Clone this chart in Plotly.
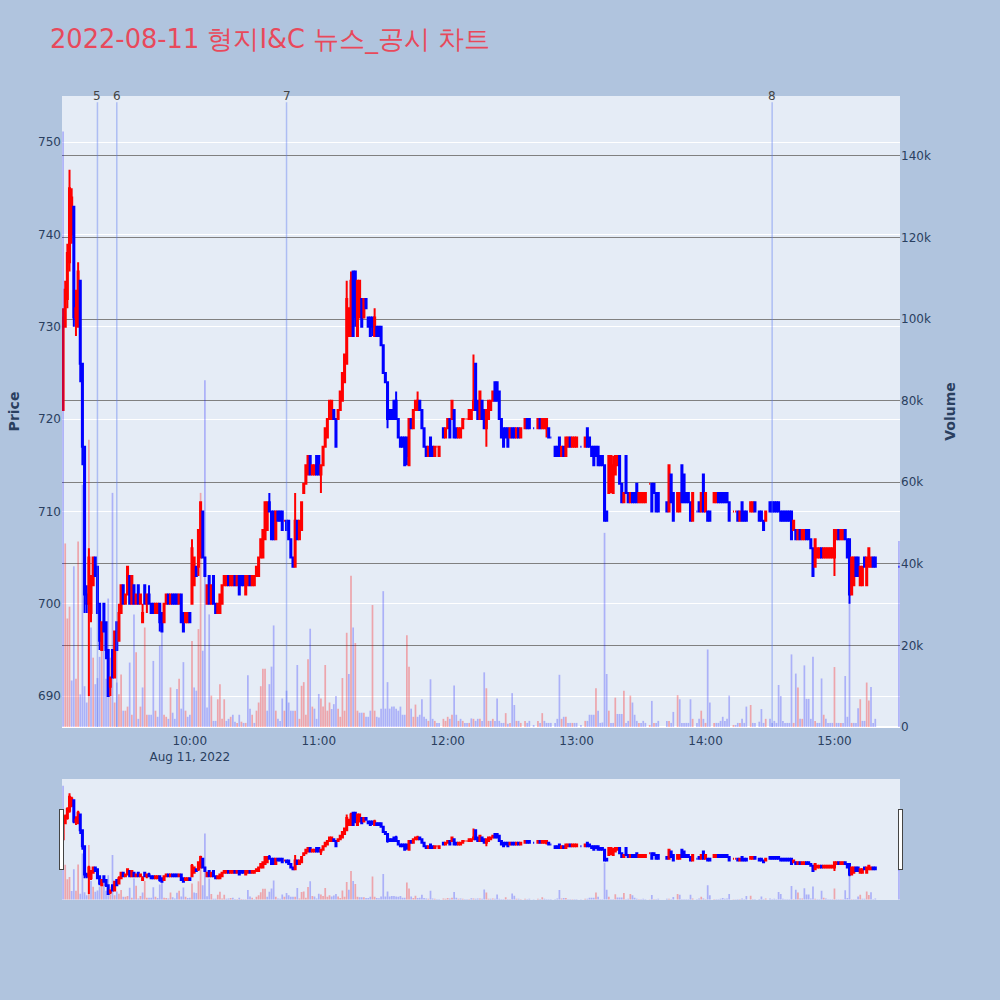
import pandas as pd
import plotly.graph_objects as go
from plotly.subplots import make_subplots

trade_date = "2022-08-11"
title_text = "2022-08-11 형지I&C 뉴스_공시 차트"

times = [
    "09:01","09:02","09:03","09:04","09:05","09:06","09:07","09:08","09:09","09:10",
    "09:11","09:12","09:13","09:14","09:15","09:16","09:17","09:18","09:19","09:20",
    "09:21","09:22","09:23","09:24","09:25","09:26","09:27","09:28","09:29","09:30",
    "09:31","09:32","09:33","09:34","09:35","09:36","09:37","09:38","09:39","09:40",
    "09:41","09:42","09:43","09:44","09:45","09:46","09:47","09:48","09:49","09:50",
    "09:51","09:52","09:53","09:54","09:55","09:56","09:57","09:58","09:59","10:00",
    "10:01","10:02","10:03","10:04","10:05","10:06","10:07","10:08","10:09","10:10",
    "10:11","10:12","10:13","10:14","10:15","10:16","10:17","10:18","10:19","10:20",
    "10:21","10:22","10:23","10:24","10:25","10:26","10:27","10:28","10:29","10:30",
    "10:31","10:32","10:33","10:34","10:35","10:36","10:37","10:38","10:39","10:40",
    "10:41","10:42","10:43","10:44","10:45","10:46","10:47","10:48","10:49","10:50",
    "10:51","10:52","10:53","10:54","10:55","10:56","10:57","10:58","10:59","11:00",
    "11:01","11:02","11:03","11:04","11:05","11:06","11:07","11:08","11:09","11:10",
    "11:11","11:12","11:13","11:14","11:15","11:16","11:17","11:18","11:19","11:20",
    "11:21","11:22","11:23","11:24","11:25","11:26","11:27","11:28","11:29","11:30",
    "11:31","11:32","11:33","11:34","11:35","11:36","11:37","11:38","11:39","11:40",
    "11:41","11:42","11:43","11:44","11:45","11:46","11:47","11:48","11:49","11:50",
    "11:51","11:52","11:53","11:54","11:55","11:56","11:58","11:59","12:00","12:01",
    "12:02","12:03","12:04","12:05","12:06","12:07","12:08","12:09","12:10","12:11",
    "12:12","12:13","12:14","12:15","12:16","12:17","12:18","12:19","12:20","12:21",
    "12:22","12:23","12:24","12:25","12:26","12:27","12:28","12:29","12:30","12:31",
    "12:32","12:33","12:34","12:36","12:37","12:38","12:40","12:42","12:43","12:44",
    "12:45","12:46","12:47","12:48","12:50","12:51","12:52","12:53","12:54","12:55",
    "12:56","12:57","12:58","12:59","13:00","13:02","13:04","13:05","13:06","13:07",
    "13:08","13:09","13:10","13:11","13:12","13:13","13:14","13:15","13:16","13:17",
    "13:18","13:19","13:20","13:21","13:22","13:23","13:24","13:25","13:26","13:27",
    "13:28","13:29","13:30","13:31","13:32","13:34","13:35","13:36","13:37","13:38",
    "13:42","13:43","13:44","13:45","13:47","13:48","13:49","13:50","13:51","13:52",
    "13:53","13:54","13:56","13:57","13:58","13:59","14:00","14:01","14:02","14:04",
    "14:05","14:06","14:07","14:08","14:09","14:10","14:11","14:13","14:14","14:15",
    "14:16","14:17","14:18","14:19","14:21","14:22","14:23","14:25","14:26","14:27",
    "14:28","14:30","14:31","14:32","14:33","14:34","14:35","14:36","14:37","14:38",
    "14:39","14:40","14:41","14:42","14:43","14:44","14:45","14:46","14:47","14:48",
    "14:49","14:50","14:51","14:52","14:53","14:54","14:55","14:56","14:57","14:58",
    "14:59","15:00","15:01","15:02","15:03","15:04","15:05","15:06","15:07","15:08",
    "15:09","15:10","15:11","15:12","15:13","15:14","15:15","15:16","15:17","15:18",
    "15:19","15:30",
]

opens = [
    721,730,733,737,740,743,731,730,735,726,
    717,701,700,699,702,705,704,700,695,700,
    698,695,691,695,692,698,696,699,702,700,
    701,703,700,702,700,702,700,698,702,700,
    701,700,700,699,699,700,699,698,700,701,
    700,701,701,701,700,701,699,698,698,699,
    700,702,704,704,705,710,705,700,703,700,
    703,700,699,699,700,702,702,703,702,702,
    703,702,703,703,703,701,702,703,702,702,
    703,703,705,705,707,708,711,710,710,707,
    710,710,710,709,709,709,707,705,704,709,
    707,708,712,713,714,716,714,714,716,716,
    714,715,717,718,720,720,721,720,720,721,
    722,724,726,729,729,736,736,729,731,733,
    731,733,731,731,731,729,730,730,730,728,
    725,724,721,721,722,722,720,718,718,718,
    718,715,720,719,721,721,722,721,719,717,
    716,718,717,716,717,716,719,718,719,720,
    720,721,719,718,718,719,720,720,720,720,
    721,726,722,720,722,721,719,720,721,722,
    724,724,723,720,719,719,719,718,719,719,
    718,719,718,719,720,720,719,719,720,719,
    719,719,719,718,717,717,718,716,717,716,
    717,718,717,717,717,717,717,719,718,717,
    717,717,717,716,716,715,710,712,713,712,
    714,715,716,713,711,716,712,711,712,712,
    713,711,711,711,711,713,713,713,712,712,
    711,710,714,712,710,710,715,714,712,712,
    711,709,710,711,710,714,710,710,710,711,
    711,712,712,712,712,712,711,710,710,710,
    709,711,710,710,710,710,711,710,710,709,
    709,711,711,711,711,711,710,710,710,710,
    710,710,708,708,707,708,707,707,708,708,
    707,706,704,705,705,706,705,705,705,705,
    705,705,707,708,707,707,708,707,707,701,
    702,705,705,702,702,705,702,704,704,705,
    705,704,
]

highs = [
    732,735,739,747,745,743,734,737,735,726,
    717,702,706,703,705,705,704,700,698,700,
    698,695,692,695,697,698,700,702,702,701,
    704,703,703,702,701,702,701,700,702,701,
    702,700,700,700,700,700,699,700,701,701,
    701,701,701,701,701,701,699,699,699,699,
    707,705,704,708,711,710,705,702,703,702,
    703,700,700,701,702,703,703,703,703,703,
    703,703,703,703,703,703,703,703,703,703,
    704,705,707,708,711,711,712,710,710,710,
    710,710,710,709,709,709,707,705,712,709,
    709,711,713,715,716,716,715,715,716,716,
    715,717,719,720,722,722,721,720,721,723,
    725,727,735,732,736,736,736,735,735,733,
    733,733,731,731,731,732,730,730,730,728,
    725,724,721,721,722,723,720,718,718,718,
    718,720,720,721,722,723,722,721,719,717,
    717,718,717,717,717,717,719,719,720,720,
    722,721,719,719,719,720,720,720,721,721,
    727,726,722,723,722,721,721,722,722,723,
    724,724,723,720,719,719,719,719,719,719,
    719,719,719,720,720,720,719,720,720,720,
    720,720,719,718,717,717,718,717,717,718,
    718,718,718,718,718,717,718,719,718,717,
    717,717,717,716,716,715,710,716,716,716,
    716,716,716,713,712,716,712,712,712,712,
    713,712,712,712,712,713,713,713,712,712,
    711,715,714,712,712,712,715,714,712,712,
    711,712,710,711,712,714,712,710,710,712,
    712,712,712,712,712,712,711,710,710,710,
    710,711,710,710,711,711,711,710,710,709,
    710,711,711,711,711,711,710,710,710,710,
    710,710,709,708,708,708,708,708,708,708,
    707,706,707,706,706,706,706,706,706,706,
    706,708,708,708,708,708,708,707,707,705,
    705,705,705,704,704,705,705,706,705,705,
    705,704,
]

lows = [
    721,730,732,736,739,730,729,730,724,715,
    699,699,690,698,702,703,699,695,695,697,
    694,690,690,692,692,695,696,699,700,700,
    701,700,700,700,700,700,700,698,700,699,
    700,699,699,699,699,697,697,698,700,700,
    700,700,700,700,700,698,697,698,698,698,
    700,702,703,703,705,705,703,700,700,700,
    700,699,699,699,700,702,702,702,702,702,
    702,702,701,702,702,701,702,702,702,702,
    703,703,705,705,707,708,710,707,707,707,
    709,709,708,709,708,707,705,704,704,707,
    707,708,712,713,714,714,714,714,714,714,
    712,715,717,718,720,720,720,717,720,721,
    722,724,726,729,729,729,730,729,731,730,
    731,732,730,729,729,729,729,729,728,725,
    724,719,720,720,720,720,718,717,717,715,
    715,715,719,719,721,721,721,719,717,716,
    716,716,716,716,717,716,718,718,719,718,
    720,718,718,718,718,719,720,720,720,720,
    721,721,720,720,720,719,717,720,721,722,
    722,722,720,718,717,718,717,718,718,718,
    718,718,718,719,719,719,719,719,719,719,
    719,718,718,718,716,716,716,716,716,716,
    717,717,717,717,717,717,717,717,717,716,
    715,716,715,715,715,709,709,712,712,712,
    714,715,713,711,711,712,711,711,711,711,
    711,711,711,711,711,713,710,712,710,710,
    710,710,711,709,710,710,711,711,711,711,
    709,709,710,710,710,710,710,709,709,711,
    711,711,711,711,711,711,709,710,710,709,
    709,709,709,709,710,710,710,709,709,708,
    709,710,710,710,710,710,709,709,709,709,
    709,707,708,707,707,707,707,707,707,707,
    706,703,704,705,705,705,705,705,705,705,
    705,703,707,707,707,707,707,705,700,701,
    702,703,703,702,702,704,702,704,704,704,
    704,704,
]

closes = [
    731,734,738,745,744,731,732,736,726,717,
    701,700,705,703,705,703,699,696,698,697,
    695,690,692,692,697,695,699,702,700,701,
    704,700,703,700,701,700,701,699,700,701,
    700,699,699,700,700,698,697,700,701,700,
    701,700,700,700,701,698,697,699,699,698,
    706,705,703,708,711,705,703,702,700,702,
    700,699,700,701,702,703,703,702,703,703,
    702,703,701,702,702,703,703,702,703,703,
    704,705,707,708,711,711,710,707,707,710,
    709,709,708,709,708,707,705,704,709,707,
    709,711,713,715,716,714,715,715,714,714,
    715,717,719,720,722,722,720,717,721,723,
    725,727,733,732,735,729,731,735,735,730,
    733,732,730,729,730,731,729,729,728,725,
    724,720,720,720,720,720,718,717,717,715,
    716,720,719,721,722,722,721,719,717,716,
    717,716,716,717,717,717,718,719,720,718,
    722,718,718,719,719,720,720,720,721,721,
    722,721,720,723,720,719,721,722,722,723,
    722,722,720,718,717,718,717,719,718,718,
    719,718,719,720,719,719,719,720,719,720,
    720,720,718,718,716,716,716,717,716,718,
    718,717,718,718,718,717,718,717,717,716,
    715,716,715,715,715,709,709,716,716,715,
    716,716,713,711,712,712,711,712,711,711,
    711,712,712,712,712,713,710,712,710,710,
    710,715,711,709,712,712,711,711,711,711,
    709,712,710,710,712,710,712,709,709,712,
    712,711,711,711,711,711,709,710,710,709,
    710,709,709,709,711,711,710,709,709,708,
    710,710,710,710,710,710,709,709,709,709,
    709,707,709,707,708,707,708,708,707,707,
    706,703,707,706,706,705,706,706,706,706,
    706,708,708,707,708,708,707,705,701,705,
    705,703,703,704,704,704,705,706,705,704,
    704,704,
]

volumes = [
    146000,45000,26600,29500,11400,39400,11800,45500,8000,59400,
    10000,6000,70400,24400,17000,10500,12000,17200,22100,30200,
    11800,31500,17000,57400,6000,10900,8000,12900,4000,4000,
    5000,15800,3000,27600,18300,2000,5000,9700,24400,3000,
    3000,3000,16200,4000,2500,19900,25000,3000,2500,2000,
    9700,3500,2000,9300,11800,4500,15900,4000,2500,3000,
    21100,9700,8900,24000,57400,18700,85000,4800,27600,7700,
    1500,1500,6800,10500,2000,6800,1500,2000,2500,3000,
    1300,1000,3000,1300,1000,1000,12700,4500,3000,1000,
    4000,6000,10000,14300,14300,4000,10500,14800,24900,4000,
    2000,1500,7000,4000,8900,6000,4000,4000,4000,15200,
    2000,10100,11000,3000,16600,24100,5000,4500,2000,8100,
    7000,5000,15200,4000,6000,4400,5600,7600,4500,2500,
    12000,4000,23100,13000,37100,24400,20600,4000,3500,3500,
    3500,2500,2500,4000,29900,4000,2500,2300,4500,33300,
    4500,11000,4500,5000,5000,4500,4000,5000,3000,3000,
    22500,14800,4500,2500,5500,2500,3000,6800,2500,2000,
    1500,11700,2000,1500,1000,1000,2000,1500,2500,2000,
    3000,10200,3000,1500,2000,1500,1000,1000,1000,2100,
    2000,1500,2000,2000,1500,13400,9500,1500,1500,2000,
    1500,7000,1500,1000,1000,3400,800,1000,8300,5400,
    1500,1500,1000,1500,1000,1500,500,1500,1000,3400,
    1500,1000,1000,1000,1000,2000,12800,2000,2500,2500,
    1000,1000,1000,1000,1000,500,1500,1500,3000,3000,
    3000,9500,4000,1000,1100,47600,13000,4000,1000,1000,
    7200,3200,3200,3200,8900,1000,1500,7700,6000,3000,
    1500,1000,1000,1500,1000,500,6400,1000,1000,1500,
    1500,1500,1000,3700,7800,6800,1000,1000,1000,1000,
    6800,2000,1000,2000,4000,2000,1000,19000,6000,1000,
    1000,1000,1500,2500,1500,2000,7700,500,500,1000,
    1000,2000,1000,5000,5400,1000,1000,1300,4400,1000,
    2000,2000,1000,1500,1000,10300,7600,1500,1000,1000,
    1000,17800,1000,13100,9700,2000,2000,15100,6900,6900,
    2000,17200,1500,1000,1000,11900,3000,2000,1000,1000,
    1000,14700,1000,1000,1000,1000,12500,2500,30500,1000,
    1000,1000,4600,6800,1500,1500,10900,6500,9800,1000,
    2000,45600,
]

event_times = ["09:17", "09:26", "10:45", "14:31"]
event_labels = ["5", "6", "7", "8"]

x = pd.to_datetime([f"{trade_date} {t}" for t in times])

fig = make_subplots(specs=[[{"secondary_y": True}]])

fig.add_trace(
    go.Candlestick(
        x=x, open=opens, high=highs, low=lows, close=closes,
        increasing=dict(line=dict(color="red", width=2), fillcolor="red"),
        decreasing=dict(line=dict(color="blue", width=2), fillcolor="blue"),
        name="Price", showlegend=False,
    ),
    secondary_y=False,
)

# volume bar colour: up versus the previous close -> red, otherwise blue
vol_colors = []
prev_close = None
for c in closes:
    up = prev_close is not None and c > prev_close
    vol_colors.append("rgba(255,0,0,0.3)" if up else "rgba(0,0,255,0.25)")
    prev_close = c

fig.add_trace(
    go.Bar(x=x, y=volumes, marker=dict(color=vol_colors, line=dict(width=0)),
           name="Volume", showlegend=False),
    secondary_y=True,
)

for t, lab in zip(event_times, event_labels):
    ts = pd.Timestamp(f"{trade_date} {t}")
    fig.add_shape(type="line", x0=ts, x1=ts, xref="x", yref="paper", y0=0, y1=0.99,
                  line=dict(color="rgba(90,120,240,0.4)", width=1.5))
    fig.add_annotation(x=ts, xref="x", y=1, yref="paper", text=lab, showarrow=False,
                       yanchor="middle", font=dict(size=12, color="#444"))

fig.update_layout(
    width=1000, height=1000,
    font=dict(family="DejaVu Sans", size=12),
    title=dict(text=title_text, x=0.05, font=dict(size=25.7, color="#E8495B")),
    paper_bgcolor="#B0C4DE",
    plot_bgcolor="#E5ECF6",
    margin=dict(l=62, r=100, t=96, b=100),
    showlegend=False,
    bargap=0.2,
)
fig.update_xaxes(
    type="date",
    domain=[0, 1],
    range=[pd.Timestamp(f"{trade_date} 09:00:30"), pd.Timestamp(f"{trade_date} 15:30:30")],
    showgrid=False,
    ticks="outside", ticklen=3, tickcolor="rgba(0,0,0,0)",
    rangeslider=dict(visible=True, bgcolor="#E5ECF6"),
)
fig.update_yaxes(title_text="<b>Price</b>", range=[686.65, 755.0], secondary_y=False,
                 gridcolor="white")
fig.update_yaxes(title_text="<b>Volume</b>", range=[0, 154700], secondary_y=True,
                 showgrid=True, gridcolor="gray")

fig.write_html("out.html", config={"displayModeBar": False},
               post_script="document.body.style.margin='0';")
